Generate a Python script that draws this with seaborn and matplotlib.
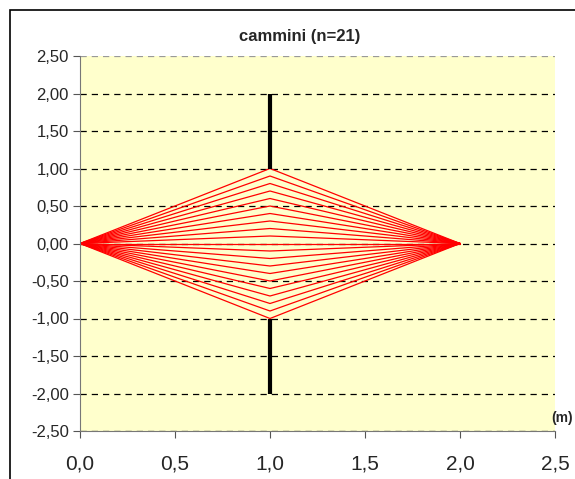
import matplotlib
matplotlib.use("Agg")
import matplotlib.pyplot as plt
import numpy as np
import pandas as pd
import seaborn as sns
from matplotlib.patches import Rectangle

# path endpoints: source at x=0, slit plane at x=1, screen point at x=2
x_source = 0.0
x_slit = 1.0
x_screen = 2.0
slit_y = [-1.0, -0.9, -0.8, -0.7, -0.6, -0.5, -0.4, -0.3, -0.2, -0.1, 0.0,
          0.1, 0.2, 0.3, 0.4, 0.5, 0.6, 0.7, 0.8, 0.9, 1.0]

# screen walls (black bars)
wall_x = [1.0, 1.0]
wall_top = [1.0, 2.0]
wall_bottom = [-2.0, -1.0]

yticks = [-2.5, -2.0, -1.5, -1.0, -0.5, 0.0, 0.5, 1.0, 1.5, 2.0, 2.5]
xticks = [0.0, 0.5, 1.0, 1.5, 2.0, 2.5]

rows = []
for i, y in enumerate(slit_y):
    rows.append({"path": i, "x": x_source, "y": 0.0})
    rows.append({"path": i, "x": x_slit, "y": y})
    rows.append({"path": i, "x": x_screen, "y": 0.0})
df = pd.DataFrame(rows)

sns.set_style("white")
plt.rcParams["font.family"] = ["Liberation Sans", "DejaVu Sans"]

fig = plt.figure(figsize=(5.75, 4.79), dpi=100)
ax = fig.add_axes([80 / 575, 48 / 479, 475 / 575, 375 / 479])
ax.set_facecolor("#ffffcc")

for y in yticks:
    ax.axhline(y, color="#999999" if y == 2.5 else "black", lw=0.9,
               ls=(0, (5, 4)), zorder=1)

sns.lineplot(data=df, x="x", y="y", units="path", estimator=None,
             color="red", lw=0.9, sort=False, ax=ax, zorder=2)

ax.plot(wall_x, wall_top, color="black", lw=3, solid_capstyle="butt", zorder=3)
ax.plot(wall_x, wall_bottom, color="black", lw=3, solid_capstyle="butt", zorder=3)

ax.set_xlim(0, 2.5)
ax.set_ylim(-2.5, 2.5)
ax.set_xticks(xticks)
ax.set_yticks(yticks)
ax.set_xticklabels([f"{v:.1f}".replace(".", ",") for v in xticks], fontsize=15)
ax.set_yticklabels([f"{v:.2f}".replace(".", ",") for v in yticks], fontsize=12)
ax.set_xlabel("")
ax.set_ylabel("")
ax.tick_params(axis="both", direction="out", length=5, width=0.8, color="#555555",
               bottom=True, left=True)
ax.tick_params(axis="x", pad=12)
ax.tick_params(axis="y", pad=3)

for side in ["top", "right"]:
    ax.spines[side].set_visible(False)
for side in ["left", "bottom"]:
    ax.spines[side].set_color("#777777")
    ax.spines[side].set_linewidth(0.8)

fig.text(300 / 575, 1 - 36 / 479, "cammini (n=21)", ha="center", va="center",
         fontsize=12, fontweight="bold")
fig.text(562 / 575, 1 - 418 / 479, "(m)", ha="center", va="center",
         fontsize=10, fontweight="bold")

fig.patches.append(Rectangle((10 / 575, -0.05), 1.2, 1 - 10 / 479 + 0.05,
                             transform=fig.transFigure, fill=False,
                             edgecolor="black", lw=1.2))

fig.savefig("out.png", dpi=100)
